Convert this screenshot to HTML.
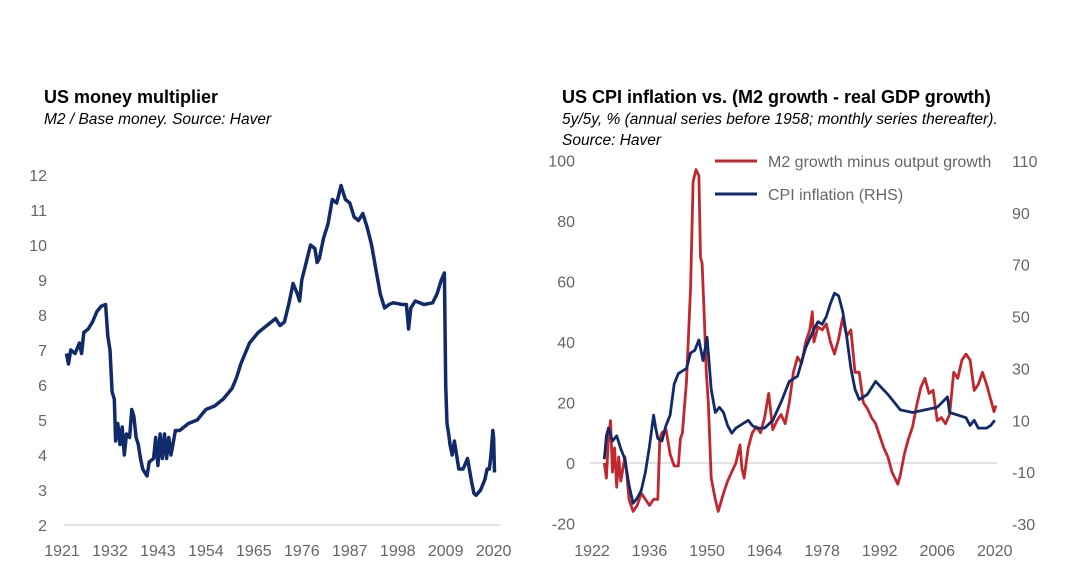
<!DOCTYPE html>
<html><head><meta charset="utf-8"><style>
body{margin:0;background:#fff;}
svg{display:block;font-family:"Liberation Sans",sans-serif;}
.t{font-weight:bold;font-size:18px;fill:#000}
.s{font-style:italic;font-size:15.5px;fill:#000}
.tk{font-size:16px;fill:#666}
</style></head><body>
<svg id="c" width="1080" height="576" viewBox="0 0 1080 576">
<text class="t" x="44" y="103">US money multiplier</text>
<text class="s" x="44" y="124">M2 / Base money. Source: Haver</text>
<text class="t" x="562" y="103">US CPI inflation vs. (M2 growth - real GDP growth)</text>
<text class="s" x="562" y="124">5y/5y, % (annual series before 1958; monthly series thereafter).</text>
<text class="s" x="562" y="145">Source: Haver</text>
<line x1="715" y1="161" x2="757" y2="161" stroke="#c0282d" stroke-width="3"/>
<text class="tk" x="768" y="167">M2 growth minus output growth</text>
<line x1="715" y1="194" x2="757" y2="194" stroke="#102a6a" stroke-width="3"/>
<text class="tk" x="768" y="200">CPI inflation (RHS)</text>
</svg>
<script>
const leftYears=[1922,1922.5,1923,1924,1925,1925.5,1926,1927,1928,1929,1930,1931,1931.5,1932,1932.5,1933,1933.3,1933.8,1934.3,1934.8,1935.3,1935.8,1936.5,1937,1937.5,1938,1938.5,1939,1939.5,1940,1940.5,1941,1942,1942.5,1943,1943.5,1944,1944.5,1945,1945.5,1946,1947,1948,1950,1952,1954,1956,1958,1960,1961,1962,1963,1964,1966,1968,1970,1971,1972,1973,1974,1975,1975.5,1976,1977,1978,1979,1979.5,1980,1981,1982,1983,1984,1985,1986,1987,1988,1989,1990,1991,1992,1993,1994,1995,1996,1997,1999,2000,2000.5,2001,2002,2004,2006,2007,2008,2008.7,2009,2009.3,2009.7,2010,2010.5,2011,2011.5,2012,2013,2014,2015,2015.5,2016,2017,2018,2018.5,2019,2019.4,2019.8,2020,2020.2];
const leftValues=[6.9,6.6,7.0,6.9,7.2,6.9,7.5,7.6,7.8,8.1,8.25,8.3,7.4,7.0,5.8,5.6,4.4,4.9,4.3,4.8,4.0,4.6,4.5,5.3,5.1,4.5,4.3,3.9,3.6,3.5,3.4,3.8,3.9,4.5,3.7,4.6,3.9,4.6,3.9,4.5,4.0,4.7,4.7,4.9,5.0,5.3,5.4,5.6,5.9,6.2,6.6,6.9,7.2,7.5,7.7,7.9,7.7,7.8,8.3,8.9,8.6,8.4,9.0,9.5,10.0,9.9,9.5,9.6,10.2,10.6,11.3,11.2,11.7,11.3,11.2,10.8,10.7,10.9,10.5,10.0,9.3,8.6,8.2,8.3,8.35,8.3,8.3,7.6,8.2,8.4,8.3,8.35,8.6,9.0,9.2,6.0,4.9,4.6,4.3,4.0,4.4,4.0,3.6,3.6,3.9,3.2,2.9,2.85,3.0,3.3,3.6,3.6,4.0,4.7,4.5,3.5];
const leftTicksY=[2,3,4,5,6,7,8,9,10,11,12];
const leftTicksX=[1921,1932,1943,1954,1965,1976,1987,1998,2009,2020];

const redYears=[1925,1925.5,1926,1926.5,1927,1927.5,1928,1928.5,1929,1930,1930.5,1931,1932,1933,1934,1935,1936,1937,1938,1938.5,1939,1940,1941,1942,1943,1943.5,1944,1945,1946,1946.6,1947.3,1948,1948.4,1948.8,1949.3,1949.8,1950.3,1951,1952,1952.7,1954,1955,1956,1957,1958,1958.5,1959,1960,1961,1962,1963,1964,1965,1966,1967,1968,1969,1970,1971,1972,1973,1974,1975,1975.6,1976,1977,1978,1979,1980,1981,1982,1983,1984,1985,1986,1987,1988,1989,1990,1991,1992,1993,1994,1995,1996.4,1997,1998,1999,2000,2001,2002,2003,2004,2005,2006,2007,2008,2009,2010,2011,2012,2013,2014,2015,2016,2017,2018,2019,2019.8,2020.3];
const redValues=[0,-5,8,14,-3,5,-8,2,-6,2,-4,-12,-16,-14,-10,-12,-14,-12,-12,8,10,11,3,-1,-1,8,10,27,58,93,97,95,68,66,49,30,20,-5,-12,-16,-10,-6,-3,0,6,-2,-5,5,10,12,10,15,23,11,14,16,13,20,30,35,33,40,44,50,40,45,44,46,40,36,41,48,42,44,30,30,20,18,15,13,9,5,2,-3,-7,-4,3,8,12,19,25,28,23,24,14,15,13,16,30,28,34,36,34,24,26,30,26,21,17,19,50];
const blueYears=[1925,1925.5,1926,1927,1928,1929,1930,1931,1932,1933,1934,1935,1936,1937,1937.5,1938,1939,1940,1941,1942,1943,1944,1945,1946,1947,1948,1949,1950,1951,1952,1953,1954,1955,1956,1957,1958,1960,1961,1962,1964,1966,1968,1970,1972,1974,1976,1977,1978,1979,1980,1981,1982,1983,1984,1985,1986,1987,1989,1991,1994,1997,2000,2003,2006,2008.5,2009,2011,2013,2014,2015,2016,2018,2019,2020];
const blueValues=[-5,4,7,2,4,-1,-5,-15,-22,-20,-17,-10,0,12,7,3,2,8,12,24,28,29,30,36,37,41,33,42,22,13,15,13,8,5,7,8,10,8,7,7,10,17,25,27,38,45,48,47,50,55,59,58,52,42,30,22,18,20,25,20,14,13,14,15,19,13,12,11,8,10,7,7,8,10];
const rightTicksL=[-20,0,20,40,60,80,100];
const rightTicksR=[-30,-10,10,30,50,70,90,110];
const rightTicksX=[1922,1936,1950,1964,1978,1992,2006,2020];

const svg=document.getElementById('c');
const NS='http://www.w3.org/2000/svg';
function mk(tag,attrs,txt){const e=document.createElementNS(NS,tag);for(const k in attrs)e.setAttribute(k,attrs[k]);if(txt!==undefined)e.textContent=txt;svg.appendChild(e);return e;}

const lx=y=>62+(y-1921)*4.36;
const ly=v=>525-(v-2)*35;
let e=mk('line',{x1:64,x2:500,y1:525,y2:525,stroke:'#d9d9d9','stroke-width':1.5});


leftTicksY.forEach(v=>{const t=mk('text',{class:'tk',x:47,y:ly(v)+6,'text-anchor':'end'},v);

});
leftTicksX.forEach(v=>{const t=mk('text',{class:'tk',x:lx(v),y:556,'text-anchor':'middle'},v);

});
e=mk('polyline',{points:leftYears.map((y,i)=>lx(y).toFixed(1)+','+ly(leftValues[i]).toFixed(1)).join(' '),fill:'none',stroke:'#102a6a','stroke-width':3.5,'stroke-linejoin':'round'});



const rx=y=>592+(y-1922)*4.11;
const ryL=v=>463-v*3.025;
const ryR=v=>524-(v+30)*2.593;
e=mk('line',{x1:590,x2:997,y1:ryL(0),y2:ryL(0),stroke:'#d9d9d9','stroke-width':1.5});


rightTicksL.forEach(v=>{const t=mk('text',{class:'tk',x:575,y:ryL(v)+6,'text-anchor':'end'},v);

});
rightTicksR.forEach(v=>{const t=mk('text',{class:'tk',x:1012,y:ryR(v)+6,'text-anchor':'start'},v);

});
rightTicksX.forEach(v=>{const t=mk('text',{class:'tk',x:rx(v),y:556,'text-anchor':'middle'},v);

});
e=mk('polyline',{points:redYears.map((y,i)=>rx(y).toFixed(1)+','+ryL(redValues[i]).toFixed(1)).join(' '),fill:'none',stroke:'#c0282d','stroke-width':2.8,'stroke-linejoin':'round'});


e=mk('polyline',{points:blueYears.map((y,i)=>rx(y).toFixed(1)+','+ryR(blueValues[i]).toFixed(1)).join(' '),fill:'none',stroke:'#102a6a','stroke-width':2.8,'stroke-linejoin':'round'});


</script>
</body></html>
